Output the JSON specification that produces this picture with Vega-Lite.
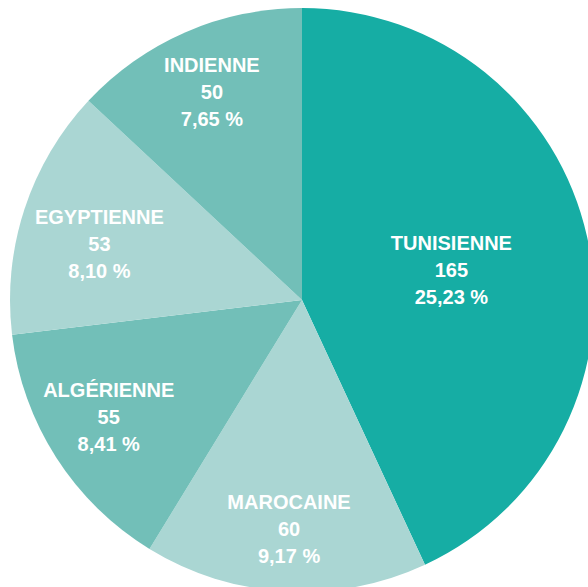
{
  "$schema": "https://vega.github.io/schema/vega-lite/v6.json",
  "width": 604,
  "height": 600,
  "padding": 0,
  "autosize": {"type": "none"},
  "background": "white",
  "view": {"stroke": null},
  "config": {
    "text": {"color": "white", "font": "Liberation Sans", "fontWeight": "bold", "fontSize": 20, "lineBreak": "\n", "lineHeight": 27, "align": "center", "baseline": "middle"}
  },
  "data": {
    "values": [
      {"nationalite": "TUNISIENNE", "effectif": 165, "pct": "25,23 %", "ordre": 1},
      {"nationalite": "MAROCAINE", "effectif": 60, "pct": "9,17 %", "ordre": 2},
      {"nationalite": "ALGÉRIENNE", "effectif": 55, "pct": "8,41 %", "ordre": 3},
      {"nationalite": "EGYPTIENNE", "effectif": 53, "pct": "8,10 %", "ordre": 4},
      {"nationalite": "INDIENNE", "effectif": 50, "pct": "7,65 %", "ordre": 5}
    ]
  },
  "transform": [
    {"stack": "effectif", "groupby": [], "sort": [{"field": "ordre", "order": "ascending"}], "as": ["t0", "t1"]},
    {"calculate": "(datum.t0 + datum.t1) / 2", "as": "tmid"},
    {"calculate": "datum.nationalite + '\\n' + datum.effectif + '\\n' + datum.pct", "as": "label"}
  ],
  "layer": [
    {
      "mark": {"type": "arc", "outerRadius": 292, "stroke": null},
      "encoding": {
        "theta": {"field": "t0", "type": "quantitative", "scale": {"domain": [0, 383], "zero": true}},
        "theta2": {"field": "t1"},
        "color": {
          "field": "nationalite",
          "type": "nominal",
          "legend": null,
          "scale": {
            "domain": ["TUNISIENNE", "MAROCAINE", "ALGÉRIENNE", "EGYPTIENNE", "INDIENNE"],
            "range": ["#16ada4", "#aad6d3", "#72bfb8", "#aad6d3", "#72bfb8"]
          }
        }
      }
    },
    {
      "transform": [{"filter": "datum.nationalite === 'TUNISIENNE'"}],
      "mark": {"type": "text", "radius": 153, "dy": -23},
      "encoding": {"theta": {"field": "tmid", "type": "quantitative"}, "text": {"field": "label", "type": "nominal"}}
    },
    {
      "transform": [{"filter": "datum.nationalite === 'MAROCAINE'"}],
      "mark": {"type": "text", "radius": 226, "dy": -23},
      "encoding": {"theta": {"field": "tmid", "type": "quantitative"}, "text": {"field": "label", "type": "nominal"}}
    },
    {
      "transform": [{"filter": "datum.nationalite === 'ALGÉRIENNE'"}],
      "mark": {"type": "text", "radius": 226, "dx": -3, "dy": -31},
      "encoding": {"theta": {"field": "tmid", "type": "quantitative"}, "text": {"field": "label", "type": "nominal"}}
    },
    {
      "transform": [{"filter": "datum.nationalite === 'EGYPTIENNE'"}],
      "mark": {"type": "text", "radius": 210, "dx": -3, "dy": -17},
      "encoding": {"theta": {"field": "tmid", "type": "quantitative"}, "text": {"field": "label", "type": "nominal"}}
    },
    {
      "transform": [{"filter": "datum.nationalite === 'INDIENNE'"}],
      "mark": {"type": "text", "radius": 226, "dy": -27},
      "encoding": {"theta": {"field": "tmid", "type": "quantitative"}, "text": {"field": "label", "type": "nominal"}}
    }
  ]
}
